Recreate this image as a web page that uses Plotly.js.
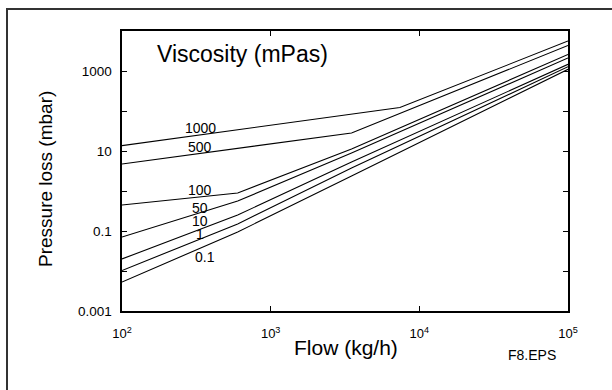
<!DOCTYPE html>
<html>
<head>
<meta charset="utf-8">
<script src="https://cdn.plot.ly/plotly-3.0.1.min.js"></script>
<style>
  html, body { margin: 0; padding: 0; background: #fff; }
  #chart { width: 612px; height: 390px; }
</style>
</head>
<body>
<div id="chart"></div>
<script>
// ---- Data ----
const viscosityLabels = ["1000", "500", "100", "50", "10", "1", "0.1"];

const flow1000 = [100, 7400, 100000];
const loss1000 = [13.6, 122, 5620];

const flow500 = [100, 3500, 100000];
const loss500 = [4.73, 28.2, 4340];

const flow100 = [100, 600, 3500, 100000];
const loss100 = [0.447, 0.891, 11.2, 2585];

const flow50 = [100, 600, 3500, 100000];
const loss50 = [0.0708, 0.562, 8.91, 2113];

const flow10 = [100, 600, 3500, 100000];
const loss10 = [0.02, 0.251, 5.31, 1471];

const flow1 = [100, 600, 3500, 100000];
const loss1 = [0.0103, 0.150, 3.76, 1281];

const flow01 = [100, 600, 3500, 100000];
const loss01 = [0.0053, 0.0944, 2.37, 1103];

const xTickVals = [100, 1000, 10000, 100000];
const xTickText = ["10<sup>2</sup>", "10<sup>3</sup>", "10<sup>4</sup>", "10<sup>5</sup>"];
const yTickVals = [0.001, 0.1, 10, 1000];
const yTickText = ["0.001", "0.1", "10", "1000"];
const yMinorTickVals = [0.01, 1, 100];

// ---- Layout helpers (pixel -> paper) ----
const L = 122, R = 44, T = 31, B = 79, W = 612, H = 390;
const PW = W - L - R, PH = H - T - B;
const px = x => (x - L) / PW;
const py = y => (H - B - y) / PH;

const FONT = "Liberation Sans, Arial, Helvetica, sans-serif";

const flows = [flow1000, flow500, flow100, flow50, flow10, flow1, flow01];
const losses = [loss1000, loss500, loss100, loss50, loss10, loss1, loss01];

const traces = flows.map((f, i) => ({
  x: f, y: losses[i], type: "scatter", mode: "lines",
  name: viscosityLabels[i],
  line: { color: "#000", width: 1.1 },
  hoverinfo: "skip"
}));

// label positions (pixels)
const labelPos = [[200, 128], [200, 147], [200, 190], [200, 208], [200, 221], [200, 234], [205, 257]];

const annotations = viscosityLabels.map((t, i) => ({
  text: t, xref: "paper", yref: "paper",
  x: px(labelPos[i][0]), y: py(labelPos[i][1]),
  xanchor: "center", yanchor: "middle", showarrow: false,
  font: { family: FONT, size: 14, color: "#000" }
}));
annotations.push({
  text: "Viscosity (mPas)", xref: "paper", yref: "paper",
  x: px(155), y: py(54), xanchor: "left", yanchor: "middle", showarrow: false,
  font: { family: FONT, size: 23, color: "#000" }
});
annotations.push({
  text: "F8.EPS", xref: "paper", yref: "paper",
  x: px(532), y: py(355), xanchor: "center", yanchor: "middle", showarrow: false,
  font: { family: FONT, size: 14, color: "#000" }
});
annotations.push({
  text: "Pressure loss (mbar)", xref: "paper", yref: "paper",
  x: px(45), y: py(179), xanchor: "center", yanchor: "middle", textangle: -90, showarrow: false,
  font: { family: FONT, size: 19, color: "#000" }
});
annotations.push({
  text: "Flow (kg/h)", xref: "paper", yref: "paper",
  x: px(346), y: py(347), xanchor: "center", yanchor: "middle", showarrow: false,
  font: { family: FONT, size: 21, color: "#000" }
});

const layout = {
  width: W, height: H,
  margin: { l: L, r: R, t: T, b: B, pad: 0 },
  paper_bgcolor: "#fff", plot_bgcolor: "#fff",
  showlegend: false,
  font: { family: FONT, color: "#000" },
  xaxis: {
    type: "log", range: [2, 5],
    tickvals: xTickVals, ticktext: xTickText,
    ticks: "inside", ticklen: 5, tickwidth: 1, tickcolor: "#000",
    ticklabelstandoff: 10,
    showline: true, linecolor: "#000", linewidth: 1.6, mirror: "ticks",
    showgrid: false, zeroline: false,
    tickfont: { family: FONT, size: 13, color: "#000" }
  },
  yaxis: {
    type: "log", range: [-3, 4],
    tickvals: yTickVals, ticktext: yTickText,
    minor: { tickvals: yMinorTickVals, ticks: "inside", ticklen: 5, tickwidth: 1, tickcolor: "#000", showgrid: false },
    ticks: "inside", ticklen: 5, tickwidth: 1, tickcolor: "#000",
    ticklabelstandoff: 6,
    showline: true, linecolor: "#000", linewidth: 1.6, mirror: "ticks",
    showgrid: false, zeroline: false,
    tickfont: { family: FONT, size: 13.5, color: "#000" }
  },
  shapes: [
    { type: "line", xref: "paper", yref: "paper", x0: px(7), x1: px(7), y0: py(9), y1: py(392),
      line: { color: "#333", width: 2 } },
    { type: "line", xref: "paper", yref: "paper", x0: px(6), x1: px(614), y0: py(9), y1: py(9),
      line: { color: "#333", width: 2 } }
  ],
  annotations: annotations
};

Plotly.newPlot("chart", traces, layout, { staticPlot: true, displayModeBar: false });
</script>
</body>
</html>
